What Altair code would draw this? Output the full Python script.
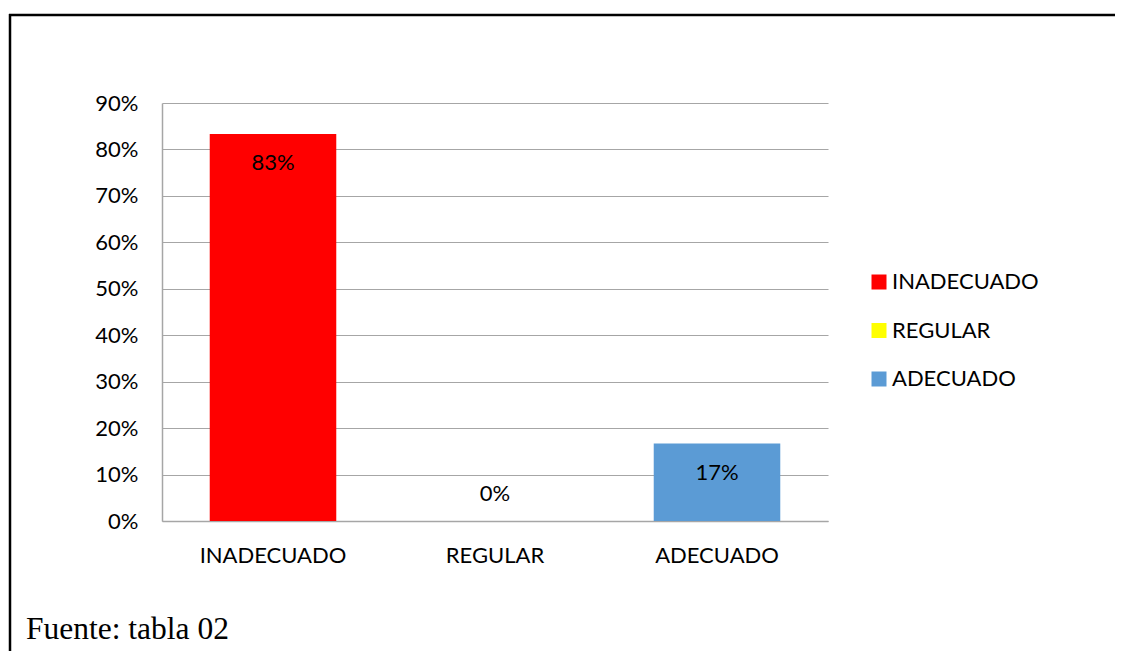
import altair as alt
import pandas as pd

categories = ["INADECUADO", "REGULAR", "ADECUADO"]
values = [0.8333, 0.0, 0.1667]
labels = ["83%", "0%", "17%"]
colors = ["#FF0000", "#FFFF00", "#5B9BD5"]
y_ticks = [0, 0.1, 0.2, 0.3, 0.4, 0.5, 0.6, 0.7, 0.8, 0.9]
source_note = "Fuente: tabla 02"

df = pd.DataFrame({"cat": categories, "val": values, "lab": labels})

FONT = "Lato"
FS = 22
W, H = 666, 418

x_enc = alt.X("cat:N", sort=categories,
              scale=alt.Scale(paddingInner=0.43, paddingOuter=0.215),
              axis=alt.Axis(title=None, labelAngle=0, ticks=False, labelPadding=24,
                            domainColor="#A6A6A6", domainWidth=1.5,
                            labelFont=FONT, labelFontSize=FS, labelColor="#000000"))
y_enc = alt.Y("val:Q", scale=alt.Scale(domain=[0, 0.9], nice=False),
              axis=alt.Axis(title=None, values=y_ticks, format=".0%", ticks=False,
                            labelPadding=24, domainColor="#A6A6A6", domainWidth=1.5,
                            gridColor="#A6A6A6", gridWidth=1.2,
                            labelFont=FONT, labelFontSize=FS, labelColor="#000000"))

bars = alt.Chart(df).mark_bar().encode(
    x=x_enc, y=y_enc,
    color=alt.Color("cat:N", sort=categories,
                    scale=alt.Scale(domain=categories, range=colors),
                    legend=alt.Legend(title=None, orient="none", legendX=706, legendY=168,
                                      symbolType="square", symbolSize=225,
                                      symbolStrokeWidth=0, rowPadding=26.5,
                                      labelFont=FONT, labelFontSize=FS, labelColor="#000000",
                                      labelOffset=2))
)

text_in = alt.Chart(df).transform_filter("datum.val > 0").mark_text(
    dy=29, font=FONT, fontSize=FS, color="#000000"
).encode(x=alt.X("cat:N", sort=categories), y="val:Q", text="lab:N")

text_zero = alt.Chart(df).transform_filter("datum.val <= 0").mark_text(
    dy=-27, font=FONT, fontSize=FS, color="#000000"
).encode(x=alt.X("cat:N", sort=categories), y="val:Q", text="lab:N")

one = pd.DataFrame({"k": [0]})
frame_top = alt.Chart(one).mark_rule(
    stroke="#000000", strokeWidth=2.5, clip=False
).encode(x=alt.value(9 - 162), x2=alt.value(1130 - 162),
         y=alt.value(15 - 103))
frame_left = alt.Chart(one).mark_rule(
    stroke="#000000", strokeWidth=2.5, clip=False
).encode(x=alt.value(10 - 162), y=alt.value(14 - 103), y2=alt.value(700 - 103))

note = alt.Chart(pd.DataFrame({"t": [source_note]})).mark_text(
    align="left", baseline="alphabetic", font="Liberation Serif", fontSize=31.5,
    color="#000000", clip=False
).encode(x=alt.value(26 - 162), y=alt.value(639 - 103), text="t:N")

chart = alt.layer(frame_top, frame_left, bars, text_in, text_zero, note).properties(
    width=W, height=H,
    autosize=alt.AutoSizeParams(type="none"),
    padding={"left": 154, "top": 95, "right": 287, "bottom": 130},
    background="#FFFFFF"
).configure_view(stroke=None)

chart.save("out.html", embed_options={"renderer": "svg", "actions": False})
